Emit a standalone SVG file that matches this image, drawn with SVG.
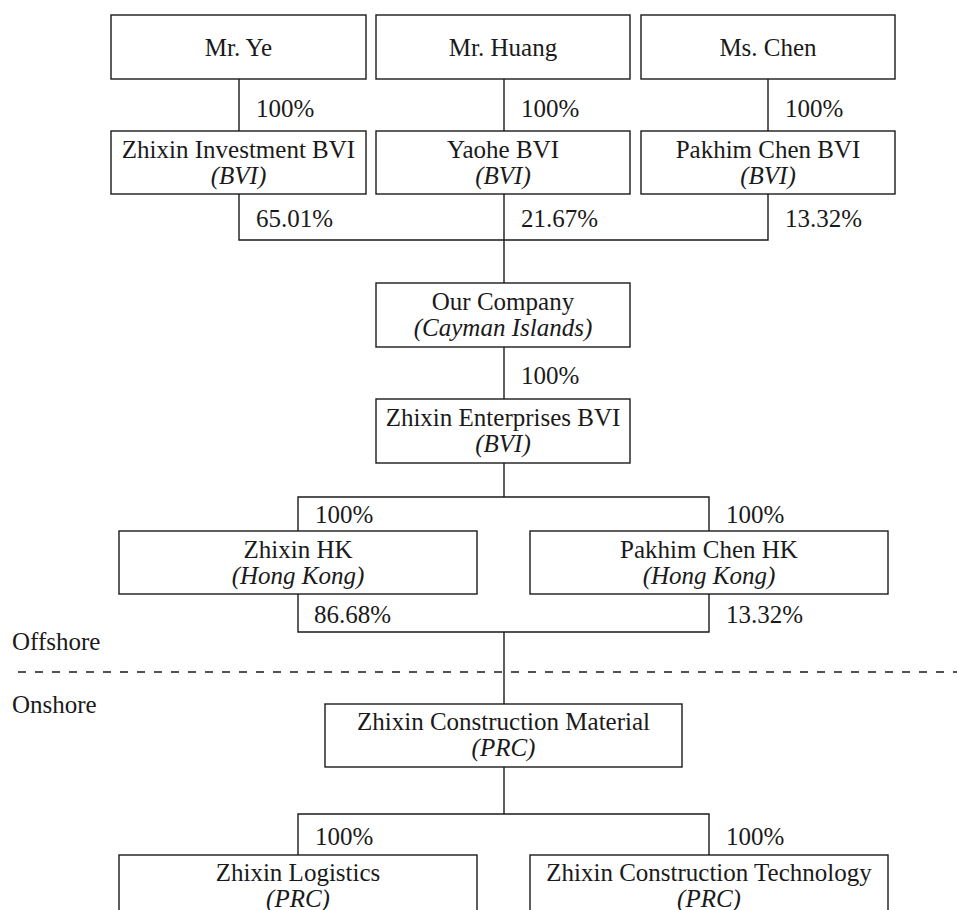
<svg xmlns="http://www.w3.org/2000/svg" width="957" height="910" viewBox="0 0 957 910">
<style>
  .box { fill: #ffffff; stroke: #1a1a1a; stroke-width: 1.4; }
  .ln { fill: none; stroke: #1a1a1a; stroke-width: 1.4; }
  .dash { fill: none; stroke: #1a1a1a; stroke-width: 1.4; stroke-dasharray: 8 9; }
  text { font-family: "Liberation Serif", "Times New Roman", serif; font-size: 25px; fill: #1a1a1a; }
  .c { text-anchor: middle; }
  .it { font-style: italic; }
</style>
<rect width="957" height="910" fill="#ffffff"/>
<g id="connectors">
  <path class="ln" d="M239 79 V131 M504 79 V131 M768 79 V131"/>
  <path class="ln" d="M239 194 V240 H768 V194 M504 194 V283"/>
  <path class="ln" d="M504 347 V399"/>
  <path class="ln" d="M504 463 V497 M298 531 V497 H709 V531"/>
  <path class="ln" d="M298 594 V632 H709 V594 M504 632 V704"/>
  <path class="ln" d="M504 767 V814 M298 855 V814 H709 V855"/>
  <text x="256" y="117">100%</text>
  <text x="521" y="117">100%</text>
  <text x="785" y="117">100%</text>
  <text x="256" y="227">65.01%</text>
  <text x="521" y="227">21.67%</text>
  <text x="785" y="227">13.32%</text>
  <text x="521" y="384">100%</text>
  <text x="315" y="523">100%</text>
  <text x="726" y="523">100%</text>
  <text x="314" y="623">86.68%</text>
  <text x="726" y="623">13.32%</text>
  <text x="315" y="845">100%</text>
  <text x="726" y="845">100%</text>
</g>
<g id="boundary">
  <text x="12" y="650">Offshore</text>
  <path class="dash" d="M18 672 H957"/>
  <text x="12" y="713">Onshore</text>
</g>
<g id="mr-ye"><rect class="box" x="111" y="15" width="255" height="64"/><text class="c" x="238.5" y="56">Mr. Ye</text></g>
<g id="mr-huang"><rect class="box" x="376" y="15" width="254" height="64"/><text class="c" x="503" y="56">Mr. Huang</text></g>
<g id="ms-chen"><rect class="box" x="641" y="15" width="254" height="64"/><text class="c" x="768" y="56">Ms. Chen</text></g>
<g id="zhixin-investment-bvi"><rect class="box" x="111" y="131" width="255" height="63"/><text class="c" x="238.5" y="158">Zhixin Investment BVI</text><text class="c it" x="238.5" y="184">(BVI)</text></g>
<g id="yaohe-bvi"><rect class="box" x="376" y="131" width="254" height="63"/><text class="c" x="503" y="158">Yaohe BVI</text><text class="c it" x="503" y="184">(BVI)</text></g>
<g id="pakhim-chen-bvi"><rect class="box" x="641" y="131" width="254" height="63"/><text class="c" x="768" y="158">Pakhim Chen BVI</text><text class="c it" x="768" y="184">(BVI)</text></g>
<g id="our-company"><rect class="box" x="376" y="283" width="254" height="64"/><text class="c" x="503" y="310">Our Company</text><text class="c it" x="503" y="336">(Cayman Islands)</text></g>
<g id="zhixin-enterprises-bvi"><rect class="box" x="376" y="399" width="254" height="64"/><text class="c" x="503" y="426">Zhixin Enterprises BVI</text><text class="c it" x="503" y="452">(BVI)</text></g>
<g id="zhixin-hk"><rect class="box" x="119" y="531" width="358" height="63"/><text class="c" x="298" y="558">Zhixin HK</text><text class="c it" x="298" y="584">(Hong Kong)</text></g>
<g id="pakhim-chen-hk"><rect class="box" x="530" y="531" width="358" height="63"/><text class="c" x="709" y="558">Pakhim Chen HK</text><text class="c it" x="709" y="584">(Hong Kong)</text></g>
<g id="zhixin-construction-material"><rect class="box" x="325" y="704" width="357" height="63"/><text class="c" x="503.5" y="730">Zhixin Construction Material</text><text class="c it" x="503.5" y="756">(PRC)</text></g>
<g id="zhixin-logistics"><rect class="box" x="119" y="855" width="358" height="70"/><text class="c" x="298" y="881">Zhixin Logistics</text><text class="c it" x="298" y="907">(PRC)</text></g>
<g id="zhixin-construction-technology"><rect class="box" x="530" y="855" width="358" height="70"/><text class="c" x="709" y="881">Zhixin Construction Technology</text><text class="c it" x="709" y="907">(PRC)</text></g>
</svg>
